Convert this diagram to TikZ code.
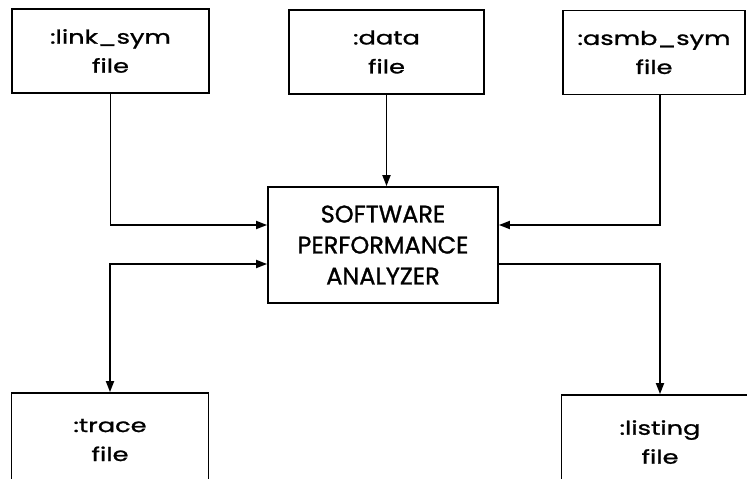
\documentclass[tikz,border=0pt]{standalone}
\usepackage{fontspec}
\setmainfont{Poppins}[FakeBold=1.2]
\newfontfamily\widefont{Poppins}[FakeStretch=1.35,FakeBold=1.2]
\usetikzlibrary{arrows.meta}

\tikzset{
    filebox/.style={draw, line width=1.8pt, align=center,
        minimum width=197pt, minimum height=84pt, inner sep=0pt,
        font=\widefont\fontsize{19}{29}\selectfont},
    mainbox/.style={draw, line width=1.8pt, align=center,
        minimum width=230pt, minimum height=116pt, inner sep=0pt,
        font=\fontsize{24}{31}\selectfont},
    flow/.style={line width=1.8pt, -{Triangle[length=11pt,width=8pt]}},
    twoway/.style={line width=1.8pt, {Triangle[length=11pt,width=8pt]}-{Triangle[length=11pt,width=8pt]}}
}

\begin{document}
\begin{tikzpicture}[x=1pt,y=-1pt]
        \useasboundingbox (0,0) rectangle (747,479);
        \clip (0,0) rectangle (747,479);
        \node[filebox] (linksym) at (110.5,51) {:link\_sym\\file};
        \node[filebox, minimum width=195pt] (data) at (386.5,52) {:data\\file};
        \node[filebox, minimum width=182pt] (asmbsym) at (654,52.5) {:asmb\_sym\\file};
        \node[mainbox] (spa) at (383,245) {SOFTWARE\\PERFORMANCE\\ANALYZER};
        \node[filebox, minimum height=110pt, text depth=16pt] (trace) at (110,448) {:trace\\file};
        \node[filebox, minimum height=110pt, text depth=16pt] (listing) at (660,450) {:listing\\file};
        \draw[flow] (linksym.south) |- ([yshift=20pt]spa.west);
        \draw[flow] (data.south) -- (data.south |- spa.north);
        \draw[flow] ([xshift=6pt]asmbsym.south) |- ([yshift=20pt]spa.east);
        \draw[twoway] (trace.north) |- ([yshift=-19pt]spa.west);
        \draw[flow] ([yshift=-19pt]spa.east) -| (listing.north);
    \end{tikzpicture}
\end{document}
